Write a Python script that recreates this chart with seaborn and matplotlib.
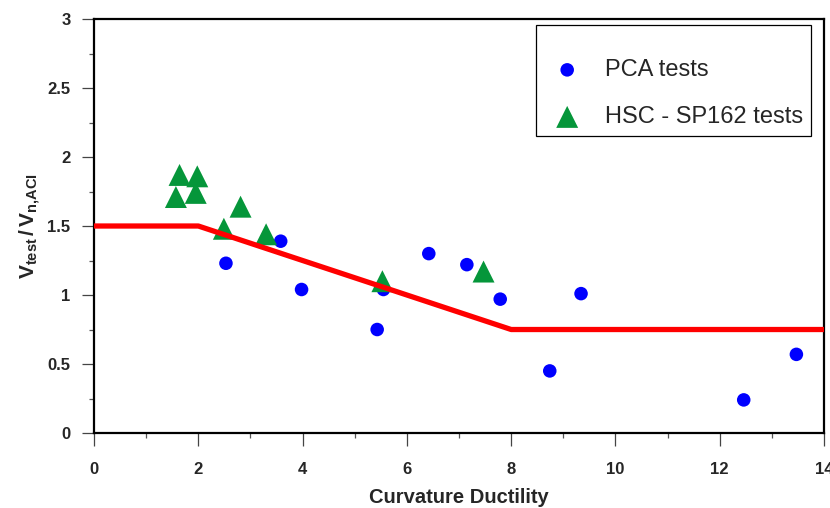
import matplotlib
matplotlib.use("Agg")
import matplotlib.pyplot as plt
from matplotlib.ticker import MultipleLocator
import seaborn as sns
import pandas as pd

# PCA test results: curvature ductility vs. normalized shear strength
pca_ductility = [2.53, 3.58, 3.98, 5.43, 5.55, 6.42, 7.15, 7.79, 8.74, 9.34, 12.46, 13.47]
pca_ratio = [1.23, 1.39, 1.04, 0.75, 1.04, 1.30, 1.22, 0.97, 0.45, 1.01, 0.24, 0.57]

# High-strength concrete tests (ACI SP-162)
hsc_ductility = [1.64, 1.98, 1.57, 1.95, 2.81, 2.49, 3.30, 5.53, 7.47]
hsc_ratio = [1.87, 1.86, 1.71, 1.74, 1.64, 1.48, 1.44, 1.10, 1.17]

# Proposed design envelope
model_ductility = [0, 2, 8, 14]
model_ratio = [1.5, 1.5, 0.75, 0.75]

x_ticks = [0, 2, 4, 6, 8, 10, 12, 14]
y_ticks = [0, 0.5, 1, 1.5, 2, 2.5, 3]
y_tick_labels = ["0", "0.5", "1", "1.5", "2", "2.5", "3"]

sns.set_style("ticks")
plt.rcParams["font.family"] = ["Liberation Sans", "DejaVu Sans"]
plt.rcParams["mathtext.fontset"] = "custom"
plt.rcParams["mathtext.rm"] = "Liberation Sans:bold"
plt.rcParams["mathtext.it"] = "Liberation Sans:bold"
plt.rcParams["mathtext.bf"] = "Liberation Sans:bold"

fig = plt.figure(figsize=(8.30, 5.08), dpi=100)
ax = fig.add_axes([0.1133, 0.1476, 0.8795, 0.8150])

pca = pd.DataFrame({"ductility": pca_ductility, "ratio": pca_ratio})
hsc = pd.DataFrame({"ductility": hsc_ductility, "ratio": hsc_ratio})
model = pd.DataFrame({"ductility": model_ductility, "ratio": model_ratio})

sns.scatterplot(data=pca, x="ductility", y="ratio", ax=ax, marker="o",
                s=95, color="#0000FF", edgecolor="none", label="PCA tests", zorder=3)
sns.scatterplot(data=hsc, x="ductility", y="ratio", ax=ax, marker="^",
                s=250, color="#05963A", edgecolor="none", label="HSC - SP162 tests", zorder=3)
sns.lineplot(data=model, x="ductility", y="ratio", ax=ax, sort=False,
             color="#FF0000", linewidth=3.8, zorder=4, legend=False)

ax.set_xlim(0, 14)
ax.set_ylim(0, 3)
ax.set_xticks(x_ticks)
ax.set_xticklabels([str(v) for v in x_ticks])
ax.set_yticks(y_ticks)
ax.set_yticklabels(y_tick_labels)
ax.xaxis.set_minor_locator(MultipleLocator(1))
ax.yaxis.set_minor_locator(MultipleLocator(0.25))

for side in ["left", "right", "top", "bottom"]:
    ax.spines[side].set_visible(True)
    ax.spines[side].set_linewidth(1.6)
    ax.spines[side].set_color("black")

ax.tick_params(axis="both", which="major", direction="out", length=9, width=0.9,
               color="#444444", labelsize=12)
ax.tick_params(axis="both", which="minor", direction="out", length=3.8, width=0.9,
               color="#555555")
ax.tick_params(axis="x", which="major", pad=12)
ax.tick_params(axis="y", which="major", pad=8)
ax.tick_params(top=False, right=False, which="both")
for lbl in ax.get_xticklabels() + ax.get_yticklabels():
    lbl.set_fontweight("bold")

ax.set_xlabel("Curvature Ductility", fontsize=14.5, fontweight="bold", labelpad=8)
ax.set_ylabel(r"$\mathrm{V_{test}\,/\,V_{n{,}ACI}}$", fontsize=15, labelpad=3)

leg = ax.legend(loc="upper right", bbox_to_anchor=(0.982, 0.9855), borderaxespad=0,
                frameon=True, fancybox=False, framealpha=1, edgecolor="black",
                prop={"family": ["Liberation Sans", "DejaVu Sans"], "size": 17},
                borderpad=0.34, labelspacing=1.06, handlelength=2.0, handletextpad=0.59,
                title=" ", title_fontsize=1)
leg.get_frame().set_linewidth(0.9)

fig.savefig("out.png", dpi=100, facecolor="white")
